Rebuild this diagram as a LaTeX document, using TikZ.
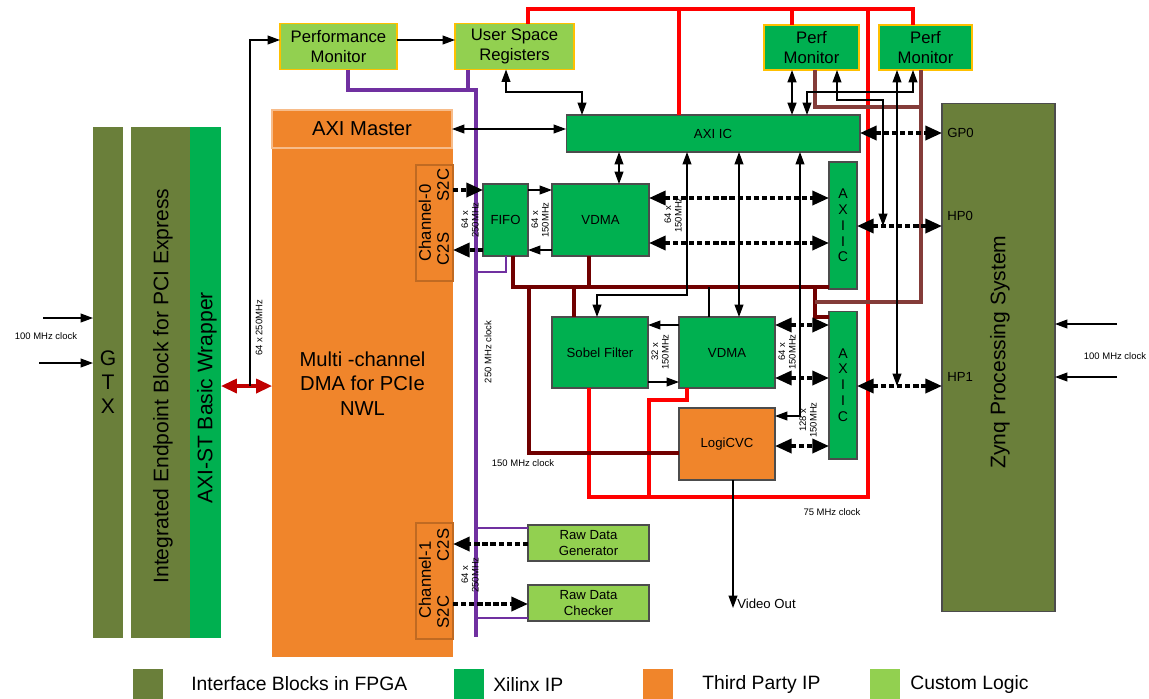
\documentclass[tikz,border=0pt]{standalone}
\usepackage{fontspec}
\setmainfont{Liberation Sans}
\usepackage{xcolor}
\definecolor{colIface}{RGB}{106,127,58}
\definecolor{colXil}{RGB}{0,176,80}
\definecolor{colThird}{RGB}{240,133,43}
\definecolor{colCustom}{RGB}{146,208,80}
\definecolor{colEdge}{RGB}{255,192,0}
\definecolor{colClkA}{RGB}{255,0,0}
\definecolor{colClkB}{RGB}{112,0,0}
\definecolor{colClkC}{RGB}{132,60,57}
\definecolor{colClkD}{RGB}{112,48,160}
\definecolor{colLink}{RGB}{192,0,0}
\usepackage{tikz}
\usetikzlibrary{arrows.meta}

\begin{document}
\begin{tikzpicture}[x=0.02cm, y=-0.02cm,
    box/.style={inner sep=0pt, outer sep=0pt, align=center, draw=black!70, line width=0.6pt, font=\fontsize{7.5}{9}\selectfont},
    xil/.style={box, fill=colXil},
    cust/.style={box, fill=colCustom},
    third/.style={box, fill=colThird},
    iface/.style={box, draw=none, fill=colIface},
    mon/.style={box, draw=colEdge, line width=1.1pt, font=\fontsize{9.5}{11.3}\selectfont},
    txtBig/.style={inner sep=0pt, font=\fontsize{12}{13.6}\selectfont, align=center},
    txtMid/.style={inner sep=0pt, font=\fontsize{9.5}{11}\selectfont},
    txtSmall/.style={inner sep=0pt, font=\fontsize{7.5}{9}\selectfont},
    txtTiny/.style={inner sep=0pt, font=\fontsize{5.4}{6}\selectfont, align=center},
    txtLeg/.style={inner sep=0pt, font=\fontsize{11}{13}\selectfont, anchor=west},
    sig/.style={line width=0.7pt, -{Triangle[length=7pt,width=5pt]}},
    dsig/.style={line width=0.7pt, {Triangle[length=7pt,width=5pt]}-{Triangle[length=7pt,width=5pt]}},
    bus/.style={line width=2pt, dash pattern=on 3pt off 1.6pt, -{Triangle[length=9.5pt,width=8pt]}},
    dbus/.style={bus, {Triangle[length=9.5pt,width=8pt]}-{Triangle[length=9.5pt,width=8pt]}},
    link/.style={colLink, line width=1.8pt, {Triangle[length=9pt,width=8pt]}-{Triangle[length=9pt,width=8pt]}},
    clkA/.style={colClkA, line width=2.2pt},
    clkB/.style={colClkB, line width=2.2pt},
    clkC/.style={colClkC, line width=1.9pt},
    clkD/.style={colClkD, line width=2.1pt},
    clkDthin/.style={colClkD, line width=0.7pt}]
\useasboundingbox (0,0) rectangle (1149,698);

% interface blocks
\node[iface, minimum width=0.6cm, minimum height=10.22cm] (gtx) at (108,382.5) {};
\node[iface, minimum width=1.18cm, minimum height=10.22cm] (ieb) at (160.5,382.5) {};
\node[xil, draw=none, minimum width=0.62cm, minimum height=10.22cm] (wrap) at (205.5,382.5) {};
\node[txtBig] (gtxText) at (108,382) {G\\T\\X};
\node[txtBig, rotate=90] (iebText) at (163,386) {Integrated Endpoint Block for PCI Express};
\node[txtBig, rotate=90] (wrapText) at (207,398) {AXI-ST Basic Wrapper};

% dma
\node[third, draw=none, minimum width=3.62cm, minimum height=10.94cm, font=\fontsize{11.5}{14}\selectfont] (dma) at (362.5,383.5) {Multi -channel\\DMA for PCIe\\NWL};
\node[third, draw=colThird!55!white, line width=1pt, minimum width=3.6cm, minimum height=0.76cm, font=\fontsize{11.5}{14}\selectfont] (axm) at (362,129) {AXI Master};
\node[third, draw=colThird!80!black, line width=0.8pt, minimum width=0.74cm, minimum height=2.32cm] (ch0) at (434.5,223) {};
\node[third, draw=colThird!80!black, line width=0.8pt, minimum width=0.74cm, minimum height=2.32cm] (ch1) at (434.5,581) {};
\node[txtMid, rotate=90] (ch0Name) at (425,223) {Channel-0};
\node[txtMid, rotate=90] (ch0Tx) at (443,185) {S2C};
\node[txtMid, rotate=90] (ch0Rx) at (443,249) {C2S};
\node[txtMid, rotate=90] (ch1Name) at (425,580) {Channel-1};
\node[txtMid, rotate=90] (ch1Rx) at (443,545) {C2S};
\node[txtMid, rotate=90] (ch1Tx) at (443,612) {S2C};

% monitors and registers
\node[mon, fill=colCustom, minimum width=2.34cm, minimum height=0.92cm] (pm) at (338.5,46.5) {Performance\\Monitor};
\node[mon, fill=colCustom, minimum width=2.38cm, minimum height=0.92cm] (usr) at (514.5,46.5) {User Space\\Registers};
\node[mon, fill=colXil, minimum width=1.9cm, minimum height=0.9cm] (pm1) at (811.5,47.5) {Perf\\Monitor};
\node[mon, fill=colXil, minimum width=1.86cm, minimum height=0.9cm] (pm2) at (925.5,47.5) {Perf\\Monitor};

% video path
\node[xil, minimum width=5.88cm, minimum height=0.74cm] (axiic) at (713,133.5) {AXI IC};
\node[xil, minimum width=0.9cm, minimum height=1.44cm] (fifo) at (505.5,220) {FIFO};
\node[xil, minimum width=1.94cm, minimum height=1.44cm] (vdmaA) at (600.5,220) {VDMA};
\node[xil, minimum width=0.56cm, minimum height=2.54cm, font=\fontsize{8}{9}\selectfont] (icA) at (843,225.5) {A\\X\\I\\I\\C};
\node[xil, minimum width=1.92cm, minimum height=1.42cm] (sobel) at (600,352.5) {Sobel Filter};
\node[xil, minimum width=1.92cm, minimum height=1.42cm] (vdmaB) at (727,352.5) {VDMA};
\node[third, minimum width=1.92cm, minimum height=1.44cm] (cvc) at (727,444) {LogiCVC};
\node[xil, minimum width=0.56cm, minimum height=2.96cm, font=\fontsize{8}{9}\selectfont] (icB) at (843,385) {A\\X\\I\\I\\C};
\node[cust, minimum width=2.42cm, minimum height=0.72cm] (rdg) at (588.5,543) {Raw Data\\Generator};
\node[cust, minimum width=2.42cm, minimum height=0.72cm] (rdc) at (588.5,603) {Raw Data\\Checker};

% zynq
\node[iface, draw=black!70, minimum width=2.26cm, minimum height=10.18cm] (zynq) at (998.5,357.5) {};
\node[txtBig, rotate=90] (zynqText) at (1000,352) {Zynq Processing System};
\node[txtSmall, anchor=west] (gp0) at (947,133) {GP0};
\node[txtSmall, anchor=west] (hp0) at (947,216) {HP0};
\node[txtSmall, anchor=west] (hp1) at (947,377) {HP1};
\coordinate (gpPort) at (zynq.west |- 0,133);
\coordinate (hp0Port) at (zynq.west |- 0,226);
\coordinate (hp1Port) at (zynq.west |- 0,386);

% 75 MHz clock
\draw[clkA] (usr.north -| 528,0) |- (913,9) -- (pm2.north -| 913,0);
\draw[clkA] (679,9) -- (axiic.north -| 679,0);
\draw[clkA] (792,9) -- (pm1.north -| 792,0);
\draw[clkA] (868,9) -- (868,497) -| (sobel.south -| 589,0);
\draw[clkA] (vdmaB.south -| 687,0) |- (649,400) -- (649,497);
\node[txtTiny] (lbl75) at (832,512) {75 MHz clock};

% 150 MHz clock
\draw[clkB] (fifo.south -| 513,0) |- (icA.west |- 0,287);
\draw[clkB] (vdmaA.south -| 589,0) -- (589,287);
\draw[clkB] (529,287) |- (cvc.west |- 0,453);
\draw[clkB] (574,287) -- (sobel.north -| 574,0);
\draw[clkB] (815,287) |- (icB.west |- 0,317);
\draw[line width=0.7pt] (709,287) -- (vdmaB.north -| 709,0);
\node[txtTiny] (lbl150) at (523,463) {150 MHz clock};
\draw[clkC] (pm1.south -| 815,0) |- (921,107);
\draw[clkC] (pm2.south -| 921,0) |- (815,302);

% 250 MHz clock
\draw[clkD] (pm.south -| 348,0) |- (476,90) -- (476,637);
\draw[clkD] (usr.south -| 468,0) |- (476,90);
\draw[clkDthin] (fifo.south -| 506,0) |- (476,272);
\draw[clkDthin] (476,528) -- (rdg.west |- 0,528);
\draw[clkDthin] (476,618) -- (rdc.west |- 0,618);
\node[txtTiny, rotate=90] (lbl250) at (488,352) {250 MHz clock};

% clock inputs
\coordinate (clkInA) at (43,318);
\coordinate (clkInB) at (39,363);
\coordinate (clkInC) at (1117,324);
\coordinate (clkInD) at (1117,377);
\draw[sig] (clkInA) -- (gtx.west |- clkInA);
\draw[sig] (clkInB) -- (gtx.west |- clkInB);
\draw[sig] (clkInC) -- (zynq.east |- clkInC);
\draw[sig] (clkInD) -- (zynq.east |- clkInD);
\node[txtTiny] (lblClkL) at (46,336) {100 MHz clock};
\node[txtTiny] (lblClkR) at (1115,356) {100 MHz clock};

% control
\draw[link] (wrap.east |- 0,386) -- (dma.west |- 0,386);
\draw[sig] (250,386) |- (pm.west |- 0,40);
\node[txtTiny, rotate=90] (lblPcie) at (259,328) {64 x 250MHz};
\draw[sig] (pm.east |- 0,40) -- (usr.west |- 0,40);
\draw[dsig] (usr.south -| 506,0) |- (582,92) -- (axiic.north -| 582,0);
\draw[dsig] (axm.east |- 0,129) -- (axiic.west |- 0,129);
\draw[dsig, line width=1.1pt] (pm1.south -| 792,0) -- (axiic.north -| 792,0);
\draw[dsig] (pm2.south -| 913,0) |- (807,92) -- (axiic.north -| 807,0);
\draw[dsig] (pm1.south -| 837,0) |- (883,100) -- (883,0 |- hp0Port);
\draw[dsig] (pm2.south -| 897,0) -- (897,0 |- hp1Port);
\draw[dbus] (axiic.east |- gpPort) -- (gpPort);
\draw[dbus] (icA.east |- hp0Port) -- (hp0Port);
\draw[dbus] (icB.east |- hp1Port) -- (hp1Port);

% data
\draw[bus] (ch0.east |- 0,190) -- (fifo.west |- 0,190);
\draw[bus] (fifo.west |- 0,250) -- (ch0.east |- 0,250);
\node[txtTiny, rotate=90] (lblCh0) at (470,220) {64 x\\250MHz};
\draw[sig] (fifo.east |- 0,190) -- (vdmaA.west |- 0,190);
\draw[sig] (vdmaA.west |- 0,250) -- (fifo.east |- 0,250);
\node[txtTiny, rotate=90] (lblFifo) at (540,220) {64 x\\150MHz};
\draw[dsig] (vdmaA.north -| 619,0) -- (axiic.south -| 619,0);
\draw[dbus] (vdmaA.east |- 0,198) -- (icA.west |- 0,198);
\draw[dbus] (vdmaA.east |- 0,243) -- (icA.west |- 0,243);
\node[txtTiny, rotate=90] (lblVdmaA) at (673,215) {64 x\\150MHz};
\draw[dsig] (axiic.south -| 687,0) |- (597,295) -- (sobel.north -| 597,0);
\draw[dsig] (axiic.south -| 739,0) -- (vdmaB.north -| 739,0);
\draw[dsig] (axiic.south -| 800,0) |- (cvc.east |- 0,416);
\draw[sig] (vdmaB.west |- 0,325) -- (sobel.east |- 0,325);
\draw[sig] (sobel.east |- 0,382) -- (vdmaB.west |- 0,382);
\node[txtTiny, rotate=90] (lblSobel) at (660,352) {32 x\\150MHz};
\draw[dbus] (vdmaB.east |- 0,325) -- (icB.west |- 0,325);
\draw[dbus] (vdmaB.east |- 0,378) -- (icB.west |- 0,378);
\node[txtTiny, rotate=90] (lblVdmaB) at (787,352) {64 x\\150MHz};
\draw[dbus] (cvc.east |- 0,446) -- (icB.west |- 0,446);
\node[txtTiny, rotate=90] (lblCvc) at (808,420) {128 x\\150MHz};
\coordinate (vout) at (733,608);
\draw[sig] (cvc.south -| vout) -- (vout);
\node[txtSmall, anchor=west] (lblVout) at (737,604) {Video Out};
\draw[bus] (rdg.west |- 0,544) -- (ch1.east |- 0,544);
\draw[bus] (ch1.east |- 0,604) -- (rdc.west |- 0,604);
\node[txtTiny, rotate=90] (lblCh1) at (470,575) {64 x\\250MHz};

% legend
\node[iface, minimum size=0.6cm] (keyIface) at (148,683.5) {};
\node[txtLeg] (keyIfaceText) at (191,684) {Interface Blocks in FPGA};
\node[xil, draw=none, minimum size=0.6cm] (keyXil) at (469,683.5) {};
\node[txtLeg] (keyXilText) at (493,684) {Xilinx IP};
\node[third, draw=none, minimum size=0.6cm] (keyThird) at (658,683.5) {};
\node[txtLeg] (keyThirdText) at (702,684) {Third Party IP};
\node[cust, draw=none, minimum size=0.6cm] (keyCust) at (885,683.5) {};
\node[txtLeg] (keyCustText) at (910,684) {Custom Logic};
\end{tikzpicture}
\end{document}
